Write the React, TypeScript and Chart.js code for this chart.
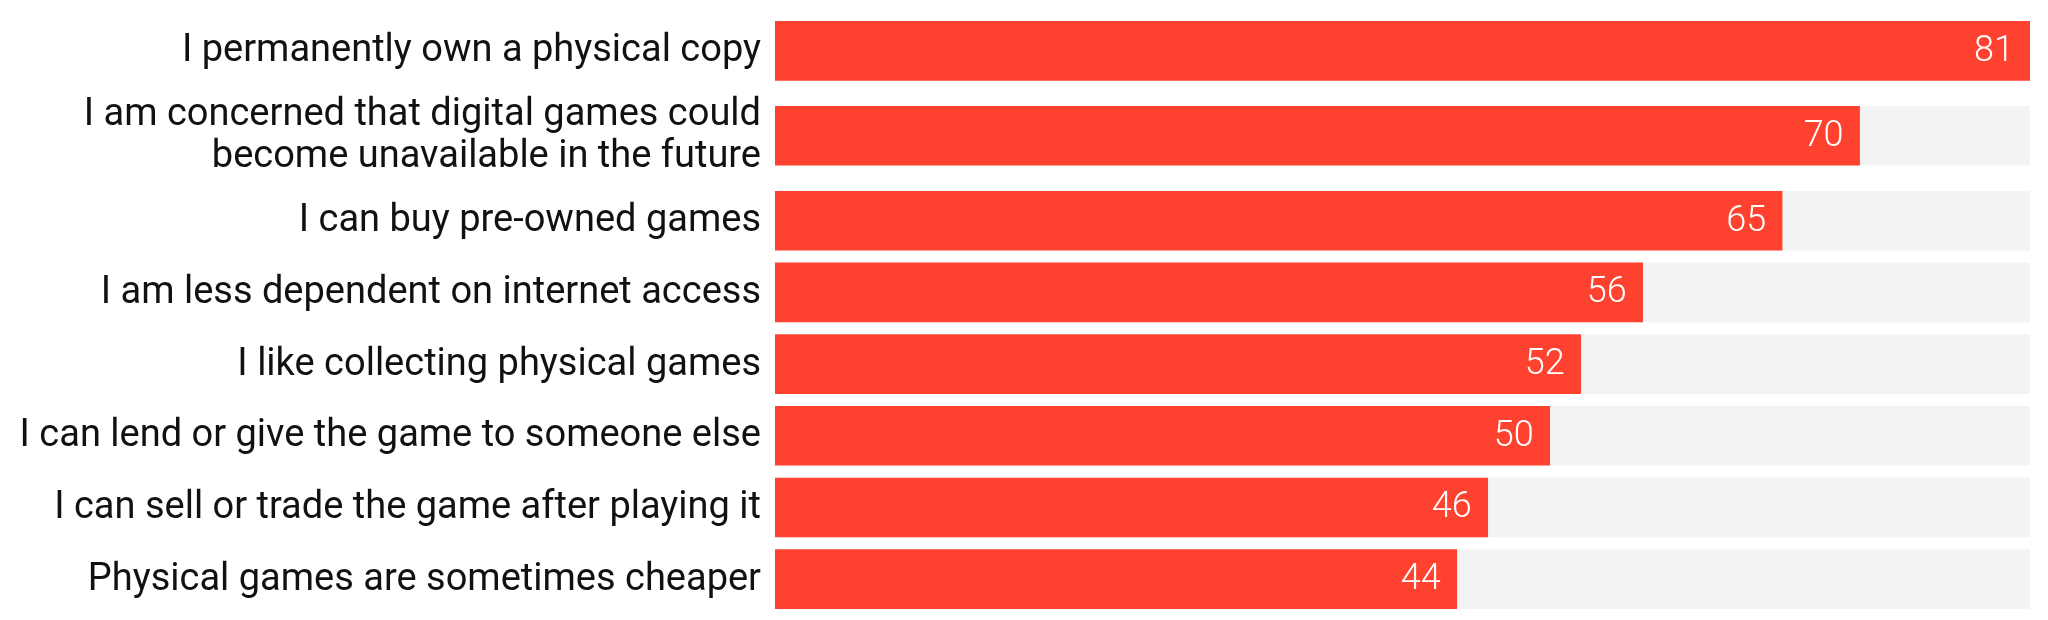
import { useEffect, useRef } from "react"
import { Chart, registerables, Plugin } from "chart.js"

Chart.register(...registerables)

// Survey answers, top to bottom
const categories: (string | string[])[] = [
  "I permanently own a physical copy",
  ["I am concerned that digital games could", "become unavailable in the future"],
  "I can buy pre-owned games",
  "I am less dependent on internet access",
  "I like collecting physical games",
  "I can lend or give the game to someone else",
  "I can sell or trade the game after playing it",
  "Physical games are sometimes cheaper",
]

const shares = [81, 70, 65, 56, 52, 50, 46, 44]

// each row grows a bit for every extra label line
const EXTRA_LINE = 0.37

const RED = "#FF4230"
const TRACK = "#F3F3F3"
const FONT = "Roboto, 'Noto Sans', sans-serif"
const LABEL_SIZE = 38
const LINE_HEIGHT = 42

function rowCenters(labels: (string | string[])[]) {
  const centers: number[] = []
  let pos = 0
  for (const l of labels) {
    const h = 1 + (Array.isArray(l) ? l.length - 1 : 0) * EXTRA_LINE
    centers.push(pos + h / 2)
    pos += h
  }
  return { centers, total: pos }
}

// category labels to the left of the plot and the values inside the bar ends
const barText: Plugin<"bar"> = {
  id: "barText",
  afterDatasetsDraw(chart) {
    const ctx = chart.ctx
    const meta = chart.getDatasetMeta(1)
    const left = chart.chartArea.left
    ctx.save()
    ctx.textAlign = "right"
    ctx.textBaseline = "middle"

    ctx.fillStyle = "#111111"
    ctx.font = `400 ${LABEL_SIZE}px ${FONT}`
    meta.data.forEach((bar: any, i: number) => {
      const lines = ([] as string[]).concat(categories[i] as any)
      const start = bar.y - ((lines.length - 1) * LINE_HEIGHT) / 2
      lines.forEach((line, j) => ctx.fillText(line, left - 14, start + j * LINE_HEIGHT + 1))
    })

    ctx.fillStyle = "#ffffff"
    ctx.font = `300 36px ${FONT}`
    meta.data.forEach((bar: any, i: number) => {
      ctx.fillText(String(shares[i]), bar.x - 16, bar.y + 1)
    })
    ctx.restore()
  },
}

function PhysicalReasonsChart() {
  const chartRef = useRef<HTMLCanvasElement>(null)
  const chartInstance = useRef<Chart | null>(null)

  useEffect(() => {
    if (!chartRef.current) return
    if (chartInstance.current) chartInstance.current.destroy()

    const ctx = chartRef.current.getContext("2d")
    if (!ctx) return

    const { centers, total } = rowCenters(categories)
    const max = Math.max(...shares)

    chartInstance.current = new Chart(ctx, {
      type: "bar",
      data: {
        datasets: [
          {
            data: centers.map((y) => ({ x: max, y })),
            backgroundColor: TRACK,
            barThickness: 59,
            grouped: false,
            order: 2,
          },
          {
            data: centers.map((y, i) => ({ x: shares[i], y })),
            backgroundColor: RED,
            barThickness: 59,
            grouped: false,
            order: 1,
          },
        ],
      },
      options: {
        indexAxis: "y",
        animation: false,
        responsive: true,
        maintainAspectRatio: false,
        devicePixelRatio: 1,
        layout: { autoPadding: false, padding: { top: 15, bottom: 5, right: 18, left: 775 } },
        plugins: {
          legend: { display: false },
          tooltip: { enabled: false },
        },
        scales: {
          x: {
            type: "linear",
            min: 0,
            max: max,
            display: false,
          },
          y: {
            type: "linear",
            min: 0,
            max: total,
            reverse: true,
            offset: false,
            display: false,
          },
        },
      },
      plugins: [barText],
    } as any)

    return () => {
      if (chartInstance.current) {
        chartInstance.current.destroy()
        chartInstance.current = null
      }
    }
  }, [])

  return <canvas ref={chartRef} />
}

export default function App() {
  return (
    <div style={{ position: "fixed", left: 0, top: 0, width: 2048, height: 620, background: "#fff" }}>
      <PhysicalReasonsChart />
    </div>
  )
}
